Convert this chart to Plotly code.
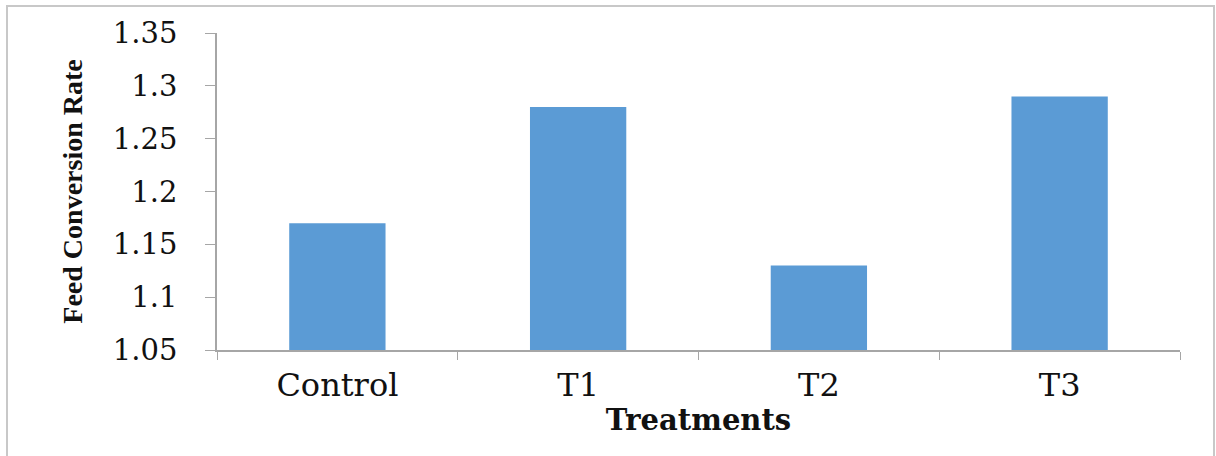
import plotly.graph_objects as go

# Feed conversion rate per treatment group
categories = ["Control", "T1", "T2", "T3"]
fcr_values = [1.17, 1.28, 1.13, 1.29]
y_ticks = [1.05, 1.1, 1.15, 1.2, 1.25, 1.3, 1.35]
y_tick_labels = ["1.05", "1.1", "1.15", "1.2", "1.25", "1.3", "1.35"]

W, H = 1216, 456
ML, MR, MT, MB = 217, 36, 33, 106
PW, PH = W - ML - MR, H - MT - MB

def px_x(px):
    return (px - ML) / PW

def px_y(py):
    return (H - MB - py) / PH

fig = go.Figure(
    go.Bar(
        x=categories,
        y=fcr_values,
        marker=dict(color="#5b9bd5", line=dict(width=0)),
        width=0.4,
    )
)

axis_color = "#a6a6a6"
serif = "DejaVu Serif"

fig.update_layout(
    width=W,
    height=H,
    margin=dict(l=ML, r=MR, t=MT, b=MB, pad=0),
    paper_bgcolor="white",
    plot_bgcolor="white",
    showlegend=False,
    xaxis=dict(
        showline=True,
        linecolor=axis_color,
        linewidth=1.5,
        ticks="outside",
        tickcolor=axis_color,
        ticklen=8,
        tickson="boundaries",
        ticklabelstandoff=6,
        tickfont=dict(family=serif, size=32, color="#111111"),
        showgrid=False,
        zeroline=False,
        title=dict(
            text="<b>Treatments</b>",
            font=dict(family=serif, size=29, color="#111111"),
            standoff=7,
        ),
    ),
    yaxis=dict(
        range=[1.05, 1.35],
        tickvals=y_ticks,
        ticktext=y_tick_labels,
        showline=True,
        linecolor=axis_color,
        linewidth=1.5,
        ticks="outside",
        tickcolor=axis_color,
        ticklen=10,
        ticklabelstandoff=22,
        tickfont=dict(family=serif, size=29, color="#111111"),
        showgrid=False,
        zeroline=False,
        title=dict(
            text="<b>Feed Conversion Rate</b>",
            font=dict(family="Liberation Serif", size=28, color="#111111"),
            standoff=22,
        ),
    ),
    shapes=[
        dict(
            type="rect",
            xref="paper",
            yref="paper",
            x0=px_x(7),
            x1=px_x(1214),
            y0=px_y(470),
            y1=px_y(6),
            line=dict(color="#c8c8c8", width=2),
            fillcolor="rgba(0,0,0,0)",
            layer="below",
        )
    ],
)

fig.write_html("out.html")
